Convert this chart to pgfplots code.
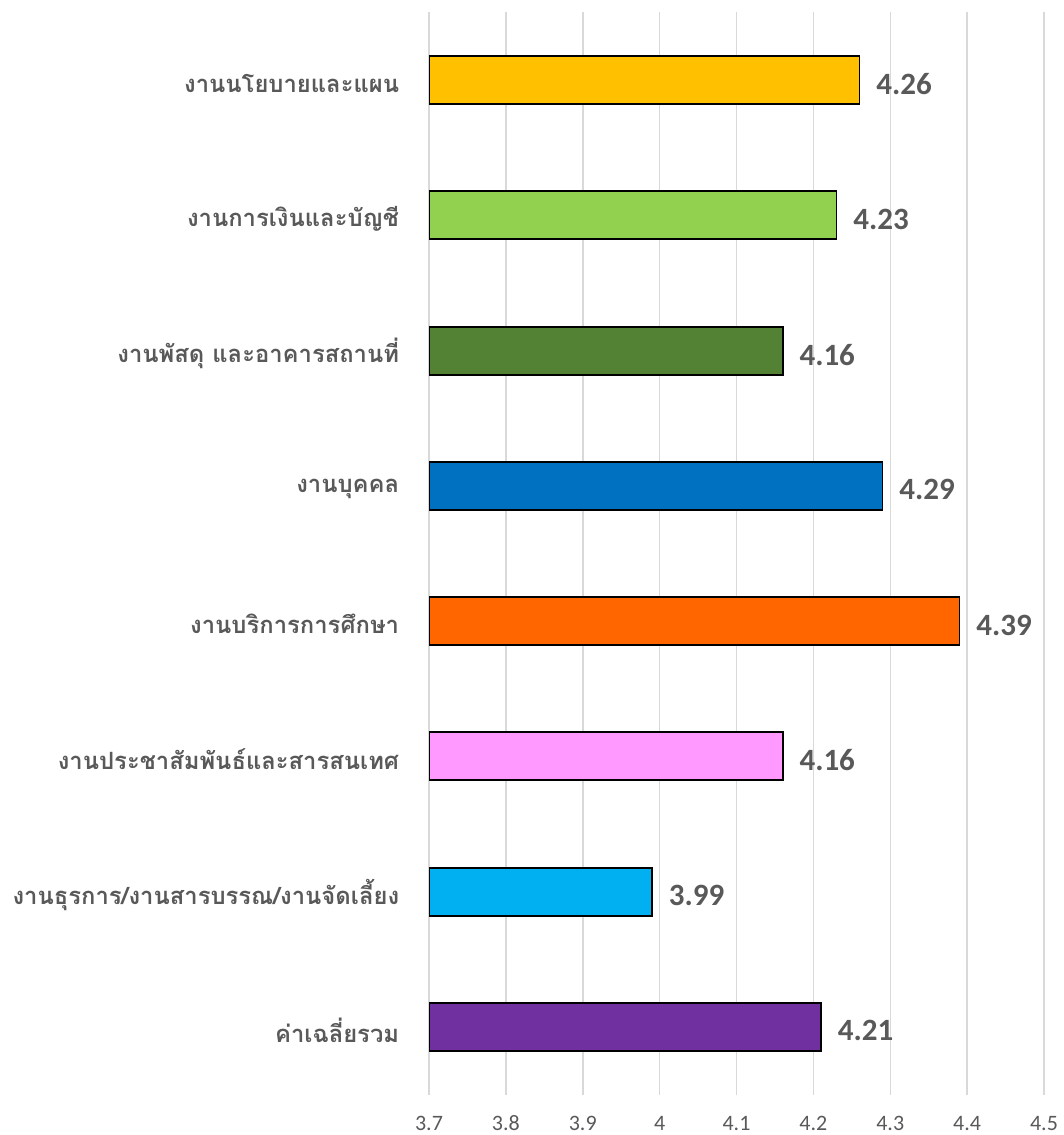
\documentclass[border=0pt]{standalone}
\usepackage{pgfplots}
\pgfplotsset{compat=1.18}
\usepackage{fontspec}
\setmainfont{Carlito}
\newfontfamily\thaifont[Script=Thai]{Loma}
\definecolor{txt}{HTML}{595959}
\definecolor{grd}{HTML}{D9D9D9}
\definecolor{c1}{HTML}{FFC000}
\definecolor{c2}{HTML}{92D050}
\definecolor{c3}{HTML}{548235}
\definecolor{c4}{HTML}{0070C0}
\definecolor{c5}{HTML}{FF6600}
\definecolor{c6}{HTML}{FF99FF}
\definecolor{c7}{HTML}{00B0F0}
\definecolor{c8}{HTML}{7030A0}
\begin{document}
\begin{tikzpicture}
\begin{axis}[name=ax, scale only axis, width=307.5pt, height=541pt,
  xmin=3.7, xmax=4.5, ymin=-0.5, ymax=7.5, y dir=reverse,
  xbar, bar width=24pt, bar shift=0pt,
  axis line style={draw=none}, tick style={draw=none},
  xmajorgrids, grid style={draw=grd, line width=0.75pt},
  xtick={3.7,3.8,3.9,4,4.1,4.2,4.3,4.4,4.5},
  xticklabels={3.7,3.8,3.9,4,4.1,4.2,4.3,4.4,4.5},
  xticklabel style={font=\fontsize{11}{13}\selectfont, text=txt, anchor=north, inner sep=0pt, yshift=-10.5pt},
  ytick={0,1,2,3,4,5,6,7},
  yticklabels={งานนโยบายและแผน,งานการเงินและบัญชี,งานพัสดุ และอาคารสถานที่,งานบุคคล,งานบริการการศึกษา,งานประชาสัมพันธ์และสารสนเทศ,งานธุรการ/งานสารบรรณ/งานจัดเลี้ยง,ค่าเฉลี่ยรวม},
  yticklabel style={font=\thaifont\bfseries\fontsize{11.9}{14}\selectfont, text=txt, anchor=east, inner sep=0pt, xshift=-10.5pt, yshift=-1.5pt},
  nodes near coords,
  nodes near coords style={anchor=west, inner sep=0pt, xshift=8pt, yshift=-2pt, font=\bfseries\fontsize{15.5}{18}\selectfont, text=txt,
    /pgf/number format/fixed, /pgf/number format/fixed zerofill, /pgf/number format/precision=2, /pgf/number format/assume math mode=true},
  every axis plot/.append style={draw=black, line width=0.9pt},
  clip=true,
]
\addplot[fill=c1] coordinates {(4.26,0)};
\addplot[fill=c2] coordinates {(4.23,1)};
\addplot[fill=c3] coordinates {(4.16,2)};
\addplot[fill=c4] coordinates {(4.29,3)};
\addplot[fill=c5] coordinates {(4.39,4)};
\addplot[fill=c6] coordinates {(4.16,5)};
\addplot[fill=c7] coordinates {(3.99,6)};
\addplot[fill=c8] coordinates {(4.21,7)};
\end{axis}
\pgfresetboundingbox
\path ([xshift=-214.5pt,yshift=-20.25pt]ax.south west) rectangle ([xshift=9.5pt,yshift=6.25pt]ax.north east);
\end{tikzpicture}
\end{document}
